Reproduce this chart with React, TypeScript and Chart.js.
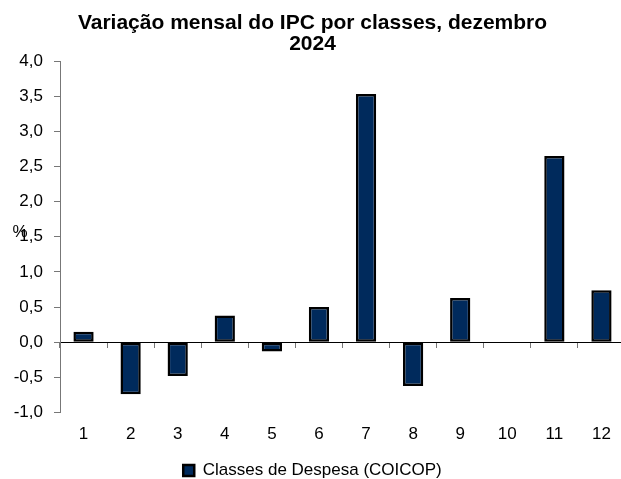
import React, { useEffect, useRef } from "react";
import { Chart, registerables } from "chart.js";

Chart.register(...registerables);

const categories = ["1", "2", "3", "4", "5", "6", "7", "8", "9", "10", "11", "12"];
const values = [0.15, -0.74, -0.48, 0.38, -0.13, 0.5, 3.53, -0.62, 0.63, 0, 2.65, 0.74];
const seriesLabel = "Classes de Despesa (COICOP)";
const titleLines = ["Variação mensal do IPC por classes, dezembro", "2024"];
const yMin = -1;
const yMax = 4;
const yStep = 0.5;
const yUnit = "%";

const FONT = "Arial, 'Liberation Sans', sans-serif";

export default function App() {
  const ref = useRef<HTMLCanvasElement | null>(null);

  useEffect(() => {
    if (!ref.current) return;
    const unitPlugin = {
      id: "unitLabel",
      afterDraw(chart: any) {
        const { ctx, chartArea } = chart;
        ctx.save();
        ctx.font = `17px ${FONT}`;
        ctx.fillStyle = "#000";
        ctx.textAlign = "center";
        ctx.textBaseline = "middle";
        ctx.fillText(yUnit, 20, (chartArea.top + chartArea.bottom) / 2 - 4);
        ctx.restore();
      },
    };
    const chart = new Chart(ref.current, {
      type: "bar",
      data: {
        labels: categories,
        datasets: [
          {
            label: seriesLabel,
            data: values,
            backgroundColor: "#002A5C",
            borderColor: "#000000",
            borderWidth: 2.5,
            borderSkipped: false,
            barPercentage: 0.43,
            categoryPercentage: 1,
            xAxisID: "x",
          },
        ],
      },
      options: {
        animation: false,
        responsive: false,
        devicePixelRatio: 1,
        layout: { padding: { left: 0, right: 5, top: 0, bottom: -10 } },
        plugins: {
          title: {
            display: true,
            text: titleLines,
            color: "#000",
            font: { family: FONT, size: 21, weight: "bold", lineHeight: "21px" },
            padding: { top: 13, bottom: 6 },
          },
          legend: {
            display: true,
            position: "bottom",
            labels: {
              color: "#000",
              font: { family: FONT, size: 17 },
              boxWidth: 11,
              boxHeight: 11,
              padding: 5,
            },
          },
          tooltip: { enabled: false },
        },
        scales: {
          x: {
            type: "category",
            position: "bottom",
            offset: true,
            grid: { display: false, drawTicks: false, offset: true },
            border: { display: false },
            ticks: { color: "#000", font: { family: FONT, size: 17 }, padding: 12, maxRotation: 0 },
          },
          x2: {
            type: "category",
            axis: "x",
            position: { y: 0 },
            offset: true,
            grid: { offset: true, drawOnChartArea: false, drawTicks: true, tickLength: 5, color: "#777" },
            border: { display: true, color: "#000", width: 1 },
            ticks: { display: false },
          },
          y: {
            type: "linear",
            min: yMin,
            max: yMax,
            position: "left",
            grid: { drawOnChartArea: false, drawTicks: true, tickLength: 6, color: "#777" },
            border: { display: true, color: "#777", width: 1 },
            ticks: {
              stepSize: yStep,
              color: "#000",
              font: { family: FONT, size: 17 },
              padding: 11,
              callback: (v: any) => Number(v).toFixed(1).replace(".", ","),
            },
            afterFit: (scale: any) => {
              scale.width = 60;
            },
          },
        },
      },
      plugins: [unitPlugin],
    } as any);
    return () => chart.destroy();
  }, []);

  return (
    <div style={{ position: "fixed", left: 0, top: 0, width: 621, height: 479, overflow: "hidden", background: "#fff" }}>
      <canvas ref={ref} width={630} height={479} style={{ display: "block" }} />
    </div>
  );
}
